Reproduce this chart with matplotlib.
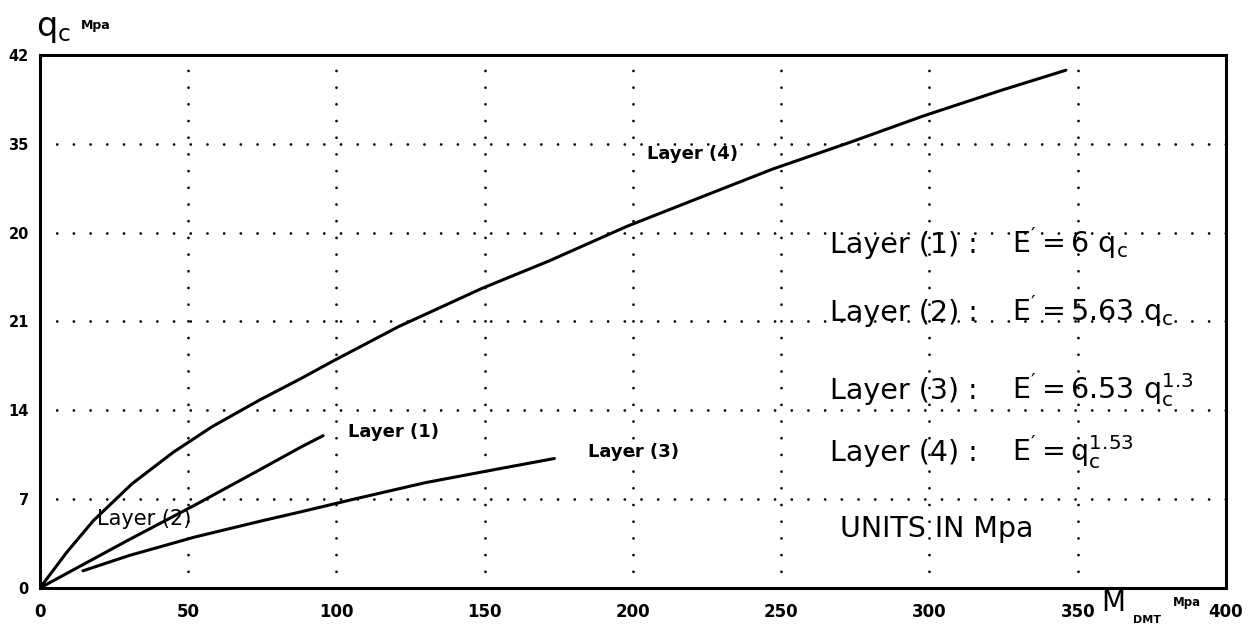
"""Cone resistance q_c against dilatometer modulus M_DMT for four layers."""

import matplotlib
matplotlib.use("Agg")
import matplotlib.pyplot as plt

########
# Data #
########
# Layer (4): E' = q_c ** 1.53
layer4_m = [0, 9, 18, 31, 45, 58, 74, 88, 99, 121, 149, 172, 198, 223, 247, 273, 298, 324, 346]
layer4_qc = [0, 2.8, 5.3, 8.2, 10.7, 12.7, 14.8, 16.5, 17.9, 20.6, 23.6, 25.8, 28.5, 30.8,
             33.0, 35.1, 37.2, 39.2, 40.8]

# Layer (1) / (2): E' = 6 q_c and E' = 5.63 q_c
layer1_m = [0, 15, 30, 52, 74, 88, 95.5]
layer1_qc = [0, 1.9, 3.8, 6.5, 9.3, 11.1, 12.0]

# Layer (3): E' = 6.53 q_c ** 1.3
layer3_m = [14.5, 30, 52, 75, 88, 105, 130, 155, 173.5]
layer3_qc = [1.35, 2.55, 4.0, 5.3, 6.0, 6.95, 8.3, 9.4, 10.2]

x_ticks = [0, 50, 100, 150, 200, 250, 300, 350, 400]
y_ticks = [0, 7, 14, 21, 28, 35, 42]
y_tick_labels = ["0", "7", "14", "21", "20", "35", "42"]

equations = [
    ("Layer (1) :", r"$E' = 6\ q_{c}$"),
    ("Layer (2) :", r"$E' = 5.63\ q_{c}$"),
    ("Layer (3) :", r"$E' = 6.53\ q_{c}^{1.3}$"),
    ("Layer (4) :", r"$E' = q_{c}^{1.53}$"),
]

############
# Plotting #
############
plt.rcParams["font.family"] = "DejaVu Sans"
plt.rcParams["mathtext.default"] = "regular"

fig = plt.figure(figsize=(12.56, 6.4), dpi=100)
ax = fig.add_axes([0.0318, 0.0813, 0.9443, 0.8328])

# Curves
for m, qc in [(layer4_m, layer4_qc), (layer1_m, layer1_qc), (layer3_m, layer3_qc)]:
    ax.plot(m, qc, color="black", lw=2.2, solid_capstyle="round",
            solid_joinstyle="round")

ax.set_xlim(0, 400)
ax.set_ylim(0, 42)
ax.set_xticks(x_ticks)
ax.set_xticklabels([str(v) for v in x_ticks])
ax.set_yticks(y_ticks)
ax.set_yticklabels(y_tick_labels)
ax.tick_params(axis="both", length=0)
ax.tick_params(axis="x", pad=11, labelsize=12)
ax.tick_params(axis="y", pad=8, labelsize=10.5)
for lab in ax.get_xticklabels() + ax.get_yticklabels():
    lab.set_fontweight("bold")

# Dotted grid
ax.grid(True, color="black", lw=2.0, linestyle=(0, (0.01, 6)),
        dash_capstyle="round")
for sp in ax.spines.values():
    sp.set_linewidth(2.2)
    sp.set_zorder(5)

# Curve labels
ax.text(204.7, 33.8, "Layer (4)", fontsize=13, fontweight="bold")
ax.text(103.9, 11.9, "Layer (1)", fontsize=13, fontweight="bold")
ax.text(184.8, 10.3, "Layer (3)", fontsize=13, fontweight="bold")
ax.text(19.2, 5.0, "Layer (2)", fontsize=15)

# Equation block
rows_y = [26.4, 21.0, 14.9, 10.0]
for (name, eq), y in zip(equations, rows_y):
    ax.text(266.5, y, name, fontsize=20.5, va="baseline")
    ax.text(328, y, eq, fontsize=20.5, va="baseline")
ax.text(269.8, 4.0, "UNITS IN Mpa", fontsize=20.5, va="baseline")

# Axis titles
fig.text(0.029, 0.943, r"$q_{c}$", fontsize=24, va="baseline")
fig.text(0.064, 0.955, "Mpa", fontsize=9, fontweight="bold", va="baseline")
fig.text(0.877, 0.045, "M", fontsize=20, va="baseline")
fig.text(0.902, 0.027, "DMT", fontsize=8, fontweight="bold", va="baseline")
fig.text(0.934, 0.053, "Mpa", fontsize=8.5, fontweight="bold", va="baseline")

fig.savefig("out.png", dpi=100, facecolor="white")
